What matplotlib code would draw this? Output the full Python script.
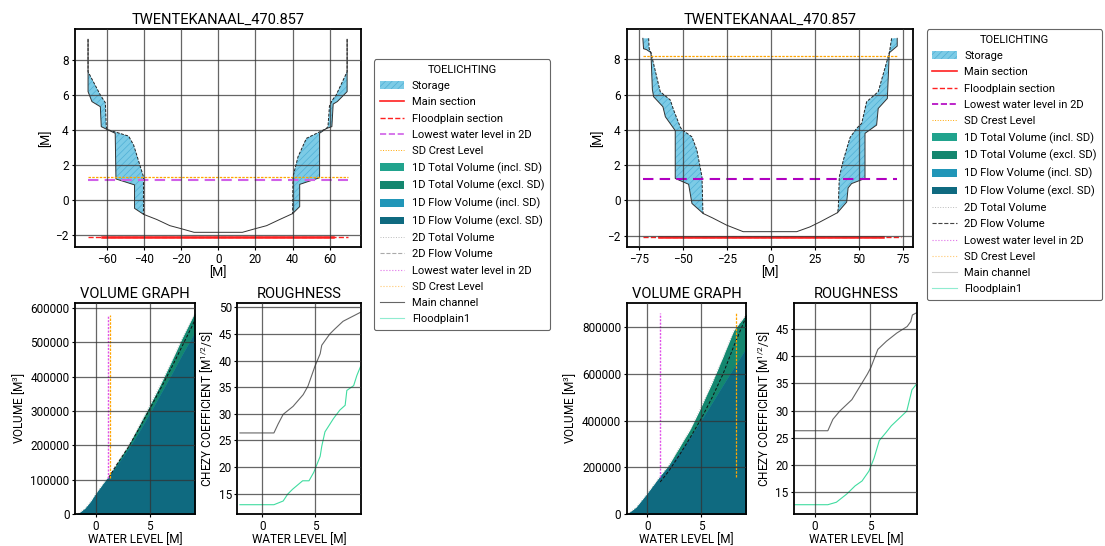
import matplotlib
matplotlib.use("Agg")
import matplotlib.pyplot as plt
from matplotlib.patches import Patch
from matplotlib.lines import Line2D
from matplotlib.ticker import MultipleLocator

plt.rcParams['font.family'] = ['Roboto', 'DejaVu Sans']
plt.rcParams['mathtext.default'] = 'regular'
plt.rcParams['hatch.linewidth'] = 0.5
plt.rcParams['hatch.color'] = '#4fb0d6'

TITLE = "TWENTEKANAAL_470.857"

# ---------------- left chart -----------------
# cross-section, left bank (outer = total width, inner = flow width)
a_lo_x = [-70.0, -70.0, -70.0, -67.9, -63.4, -62.9, -59.8, -55.4, -55.0, -45.0, -45.0, -40.2]
a_lo_z = [9.2, 7.35, 6.21, 5.64, 5.35, 4.21, 4.05, 3.83, 1.22, 0.88, -0.46, -0.8]
a_li_x = [-70.0, -70.0, -63.4, -60.7, -60.2, -59.8, -48.2, -45.5, -40.2, -40.2]
a_li_z = [9.2, 7.35, 6.02, 5.58, 4.21, 4.05, 3.67, 3.16, 1.35, -0.8]
# right bank
a_ro_x = [69.3, 69.3, 69.3, 64.0, 61.8, 61.1, 58.1, 54.5, 54.5, 43.8, 43.8, 40.0]
a_ro_z = [9.2, 7.35, 6.21, 5.64, 5.5, 4.21, 4.1, 3.83, 1.29, 0.91, -0.36, -0.76]
a_ri_x = [69.3, 69.3, 63.4, 61.1, 59.8, 59.0, 58.1, 47.4, 42.9, 40.2, 40.0]
a_ri_z = [9.2, 7.35, 6.02, 5.69, 5.39, 4.21, 4.1, 3.54, 2.49, 1.35, -0.76]
# channel bed
a_bed_x = [-40.2, -33.0, -26.0, -20.0, -13.0, 13.0, 20.0, 26.0, 33.0, 40.0]
a_bed_z = [-0.8, -1.1, -1.45, -1.62, -1.83, -1.83, -1.62, -1.45, -1.1, -0.76]
a_lowest_wl = 1.16
a_sd_crest = 1.31
a_section_z = -2.1
a_main_x = [-62.5, 61.5]
a_flood_x = [-70.0, 70.0]
a_lines_x = [-70.0, 70.0]

# volume graph
a_vol_z = [-1.85, -1.5, -1.0, -0.5, 0.0, 0.5, 1.0, 1.2, 2.0, 3.0, 4.0, 5.0, 6.0, 7.0, 8.0, 9.0, 9.2]
a_vol_flow = [0, 5000, 17000, 36000, 59600, 81000, 102000, 110000, 145000, 189000, 239000,
              293000, 349000, 405000, 463000, 518000, 528000]
a_vol_total = [0, 5000, 17000, 36000, 59600, 81000, 102000, 110000, 150000, 198000, 256000,
               315000, 376000, 441000, 509000, 572000, 585000]
a_vol2d_z = [1.2, 2.0, 3.0, 4.0, 5.0, 6.0, 7.0, 8.0, 9.0, 9.2]
a_vol2d_flow = [107000, 147000, 194000, 248000, 305000, 364000, 424000, 487000, 550000, 565000]
a_vline_v = [107000, 580000]

# roughness
a_rough_z = [-2.1, 1.1, 1.5, 1.97, 2.9, 3.85, 4.3, 4.95, 5.45, 5.6, 6.35, 6.8, 7.6, 9.25]
a_rough_main = [26.4, 26.4, 28.1, 29.9, 31.4, 33.6, 35.2, 38.9, 41.3, 42.9, 45.0, 45.9, 47.4, 49.1]
a_rough_fp_z = [-2.1, 1.1, 1.6, 1.97, 2.4, 2.85, 3.8, 4.4, 4.85, 5.45, 5.6, 5.9, 6.7, 7.3,
                7.8, 7.96, 8.6, 8.9, 9.25]
a_rough_fp = [12.9, 12.9, 13.3, 13.6, 14.9, 15.8, 17.4, 17.4, 19.0, 22.0, 23.9, 26.6, 29.1, 30.7,
              31.6, 34.4, 35.3, 37.2, 38.9]

# ---------------- right chart -----------------
b_lo_x = [-72.6, -72.2, -70.5, -68.0, -67.2, -66.5, -61.2, -59.8, -55.1, -54.2, -54.2, -46.6, -44.7, -38.3]
b_lo_z = [9.19, 8.6, 8.55, 8.38, 6.3, 5.88, 5.31, 4.74, 4.08, 3.95, 1.24, 0.91, -0.18, -0.75]
b_li_x = [-69.3, -69.0, -68.0, -62.7, -57.0, -55.1, -51.4, -50.5, -44.7, -41.9, -39.0, -38.5, -38.3]
b_li_z = [9.19, 8.6, 8.38, 6.16, 5.69, 5.12, 4.17, 4.02, 3.6, 2.85, 1.33, -0.6, -0.75]
b_ro_x = [71.9, 71.9, 67.4, 66.3, 61.1, 60.2, 53.6, 53.6, 46.0, 44.0, 43.2, 38.0]
b_ro_z = [9.19, 8.75, 8.37, 5.78, 5.21, 4.27, 3.8, 1.24, 0.95, 0.7, -0.1, -0.7]
b_ri_x = [68.7, 67.8, 67.4, 61.1, 54.5, 51.7, 49.0, 45.1, 41.3, 39.0, 38.4, 38.0]
b_ri_z = [9.19, 8.6, 8.37, 6.16, 5.59, 4.36, 4.1, 3.56, 2.28, 1.33, -0.47, -0.7]
b_bed_x = [-38.3, -33.0, -25.0, -15.6, 14.8, 22.3, 28.0, 38.0]
b_bed_z = [-0.75, -1.0, -1.41, -1.78, -1.78, -1.51, -1.23, -0.7]
b_lowest_wl = 1.2
b_sd_crest = 8.2
b_section_z = -2.1
b_main_x = [-63.3, 63.6]
b_flood_x = [-72.4, 73.9]
b_lines_x = [-72.4, 71.9]

b_vol_z = [-1.85, -1.0, 0.0, 1.0, 1.2, 2.0, 3.0, 4.0, 5.0, 6.0, 7.0, 8.0, 9.0, 9.15]
b_vol_flow = [0, 30000, 88000, 150000, 163000, 205000, 268000, 333000, 404000, 478000,
              553000, 628000, 701000, 712000]
b_vol_total = [0, 30000, 88000, 150000, 163000, 210000, 287000, 364000, 460000, 562000,
               672000, 785000, 845000, 856000]
b_vol2d_z = [1.2, 2.0, 3.0, 4.0, 5.0, 6.0, 7.0, 8.0, 9.0, 9.15]
b_vol2d_flow = [138000, 185000, 255000, 330000, 410000, 500000, 600000, 720000, 830000, 850000]
b_vline_v = [158000, 858000]

b_rough_z = [-1.8, 1.19, 1.65, 2.27, 3.37, 4.15, 4.78, 5.09, 5.72, 6.5, 7.44, 8.38, 8.7, 8.85, 9.31]
b_rough_main = [26.3, 26.3, 28.4, 29.9, 32.0, 34.6, 36.7, 37.9, 41.2, 42.7, 44.2, 45.4, 46.3, 47.5, 48.0]
b_rough_fp_z = [-1.8, 1.19, 1.96, 2.9, 3.66, 4.29, 4.91, 5.38, 5.85, 6.47, 6.94, 7.72, 8.34, 8.81, 9.28]
b_rough_fp = [12.75, 12.75, 13.2, 14.7, 16.2, 17.1, 18.9, 21.3, 24.5, 26.0, 27.2, 28.7, 29.9, 33.8, 35.0]


STORAGE = '#7ccbe6'
RED = '#ff2020'
ORANGE = '#ffa500'
C_TOT_IN = '#21a38d'
C_TOT_EX = '#14876f'
C_FLOW_IN = '#2196b8'
C_FLOW_EX = '#0f6a80'
FP_GREEN = '#40dca0'

BOTTOM_Y = 0.058
BOTTOM_H = 0.3877


def style_axis(ax, pad=2):
    for s in ax.spines.values():
        s.set_linewidth(1.3)
    ax.grid(True, color='#333333', linewidth=0.9, alpha=0.75)
    ax.set_axisbelow(False)
    ax.tick_params(labelsize=8.5, length=2.5, pad=pad)


def draw_chart(fig, x0, d, wl_color, flow2d_color, main_leg_color, leg_anchor):
    # --- cross section
    ax = fig.add_axes([x0, 0.5476, 0.2592, 0.3993])
    for ox, oz, ix, iz in [(d['lo_x'], d['lo_z'], d['li_x'], d['li_z']),
                           (d['ro_x'], d['ro_z'], d['ri_x'], d['ri_z'])]:
        ax.fill(list(ox) + list(ix[::-1]), list(oz) + list(iz[::-1]),
                facecolor=STORAGE, edgecolor='#4fb0d6', hatch='/////', linewidth=0)
        ax.plot(ox, oz, color='#333333', lw=0.7)
        ax.plot(ix, iz, color='#222222', lw=0.7, ls=(0, (3, 1.5)))
    ax.plot(d['bed_x'], d['bed_z'], color='#333333', lw=0.7)
    ax.plot(d['flood_x'], [d['section_z']] * 2, color=RED, lw=1.0, ls='--')
    ax.plot(d['main_x'], [d['section_z']] * 2, color=RED, lw=1.8)
    ax.plot(d['lines_x'], [d['lowest_wl']] * 2, color=wl_color, lw=1.5, ls=(0, (5, 3)))
    ax.plot(d['lines_x'], [d['sd_crest']] * 2, color=ORANGE, lw=0.9, ls=(0, (2, 1)))
    ax.set_xlim(d['xlim'])
    ax.set_ylim(d['ylim'])
    ax.xaxis.set_major_locator(MultipleLocator(d['xstep']))
    ax.yaxis.set_major_locator(MultipleLocator(2))
    ax.set_title(TITLE, fontsize=10.5, pad=4)
    ax.set_xlabel('[M]', fontsize=9, labelpad=0)
    ax.set_ylabel('[M]', fontsize=9, labelpad=2)
    style_axis(ax)

    # --- volume graph
    av = fig.add_axes([x0, BOTTOM_Y, 0.1083, BOTTOM_H])
    vz = d['vol_z']
    av.fill_between(vz, 0, d['vol_total'], color=C_TOT_IN, lw=0)
    av.fill_between(vz, 0, d['vol_total'], color=C_TOT_EX, lw=0)
    av.fill_between(vz, 0, d['vol_flow'], color=C_FLOW_IN, lw=0)
    av.fill_between(vz, 0, d['vol_flow'], color=C_FLOW_EX, lw=0)
    av.plot(vz, d['vol_total'], color='#bbbbbb', lw=0.6, ls=':')
    av.plot(d['vol2d_z'], d['vol2d_flow'], color='#111111', lw=0.7, ls=(0, (3, 2)))
    av.plot([d['lowest_wl']] * 2, d['vline_v'], color='#e050e8', lw=1.0, ls=(0, (1.5, 1)))
    av.plot([d['sd_crest']] * 2, d['vline_v'], color=ORANGE, lw=0.9, ls=(0, (2, 1)))
    av.set_xlim(d['vxlim'])
    av.set_ylim(0, d['vtop'])
    av.xaxis.set_major_locator(MultipleLocator(5))
    av.yaxis.set_major_locator(MultipleLocator(d['vstep']))
    av.ticklabel_format(style='plain', axis='y')
    av.set_title('VOLUME GRAPH', fontsize=10.5, pad=3)
    av.set_xlabel('WATER LEVEL [M]', fontsize=8.5, labelpad=0)
    av.set_ylabel('VOLUME [M$^3$]', fontsize=8.5, labelpad=2)
    style_axis(av, pad=1.5)

    # --- roughness
    ar = fig.add_axes([x0 + d['rdx'], BOTTOM_Y, 0.1115, BOTTOM_H])
    ar.plot(d['rough_z'], d['rough_main'], color='#666666', lw=0.8)
    ar.plot(d['rough_fp_z'], d['rough_fp'], color=FP_GREEN, lw=0.8)
    ar.set_xlim(d['rxlim'])
    ar.xaxis.set_major_locator(MultipleLocator(5))
    ar.yaxis.set_major_locator(MultipleLocator(5))
    ar.set_title('ROUGHNESS', fontsize=10.5, pad=3)
    ar.set_xlabel('WATER LEVEL [M]', fontsize=8.5, labelpad=0)
    ar.set_ylabel('CHEZY COEFFICIENT [M$^{1/2}$/S]', fontsize=8.5, labelpad=2)
    style_axis(ar, pad=1.5)

    handles = [
        Patch(facecolor=STORAGE, edgecolor='#4fb0d6', hatch='/////', lw=0),
        Line2D([], [], color=RED, lw=1.2),
        Line2D([], [], color=RED, lw=1.0, ls='--'),
        Line2D([], [], color=wl_color, lw=1.2, ls='--'),
        Line2D([], [], color=ORANGE, lw=0.7, ls=':'),
        Patch(facecolor=C_TOT_IN), Patch(facecolor=C_TOT_EX),
        Patch(facecolor=C_FLOW_IN), Patch(facecolor=C_FLOW_EX),
        Line2D([], [], color='#bbbbbb', lw=0.7, ls=':'),
        Line2D([], [], color=flow2d_color, lw=0.8, ls='--'),
        Line2D([], [], color='#e070e8', lw=0.8, ls=':'),
        Line2D([], [], color='#ffc870', lw=0.8, ls=':'),
        Line2D([], [], color=main_leg_color, lw=0.8),
        Line2D([], [], color='#90ecd0', lw=0.8),
    ]
    labels = ['Storage', 'Main section', 'Floodplain section', 'Lowest water level in 2D',
              'SD Crest Level', '1D Total Volume (incl. SD)', '1D Total Volume (excl. SD)',
              '1D Flow Volume (incl. SD)', '1D Flow Volume (excl. SD)', '2D Total Volume',
              '2D Flow Volume', 'Lowest water level in 2D', 'SD Crest Level', 'Main channel',
              'Floodplain1']
    leg = fig.legend(handles, labels, loc='upper left', bbox_to_anchor=leg_anchor,
                     title='TOELICHTING', fontsize=8, title_fontsize=8,
                     handlelength=2.2, handletextpad=0.7, labelspacing=0.56,
                     borderpad=0.5, borderaxespad=0,
                     edgecolor='#666666', fancybox=True, framealpha=1)
    leg.get_frame().set_linewidth(0.8)


fig = plt.figure(figsize=(11.05, 5.46), dpi=100)

chart_a = dict(lo_x=a_lo_x, lo_z=a_lo_z, li_x=a_li_x, li_z=a_li_z,
               ro_x=a_ro_x, ro_z=a_ro_z, ri_x=a_ri_x, ri_z=a_ri_z,
               bed_x=a_bed_x, bed_z=a_bed_z, lowest_wl=a_lowest_wl, sd_crest=a_sd_crest,
               section_z=a_section_z, main_x=a_main_x, flood_x=a_flood_x, lines_x=a_lines_x,
               xlim=(-77, 77), ylim=(-2.67, 9.79), xstep=20,
               vol_z=a_vol_z, vol_flow=a_vol_flow, vol_total=a_vol_total,
               vol2d_z=a_vol2d_z, vol2d_flow=a_vol2d_flow, vline_v=a_vline_v,
               vxlim=(-1.93, 9.19), vtop=615000, vstep=100000,
               rough_z=a_rough_z, rough_main=a_rough_main,
               rough_fp_z=a_rough_fp_z, rough_fp=a_rough_fp,
               rxlim=(-2.34, 9.25), rdx=0.1469)
chart_b = dict(lo_x=b_lo_x, lo_z=b_lo_z, li_x=b_li_x, li_z=b_li_z,
               ro_x=b_ro_x, ro_z=b_ro_z, ri_x=b_ri_x, ri_z=b_ri_z,
               bed_x=b_bed_x, bed_z=b_bed_z, lowest_wl=b_lowest_wl, sd_crest=b_sd_crest,
               section_z=b_section_z, main_x=b_main_x, flood_x=b_flood_x, lines_x=b_lines_x,
               xlim=(-81.8, 80.9), ylim=(-2.65, 9.72), xstep=25,
               vol_z=b_vol_z, vol_flow=b_vol_flow, vol_total=b_vol_total,
               vol2d_z=b_vol2d_z, vol2d_flow=b_vol2d_flow, vline_v=b_vline_v,
               vxlim=(-1.89, 9.14), vtop=904000, vstep=200000,
               rough_z=b_rough_z, rough_main=b_rough_main,
               rough_fp_z=b_rough_fp_z, rough_fp=b_rough_fp,
               rxlim=(-1.85, 9.31), rdx=0.1517)

draw_chart(fig, 0.0679, chart_a, '#d060e8', '#aaaaaa', '#666666', (0.3385, 0.8914))
draw_chart(fig, 0.5671, chart_b, '#b000c0', '#444444', '#cccccc', (0.8386, 0.9463))

fig.savefig('out.png', dpi=100)
